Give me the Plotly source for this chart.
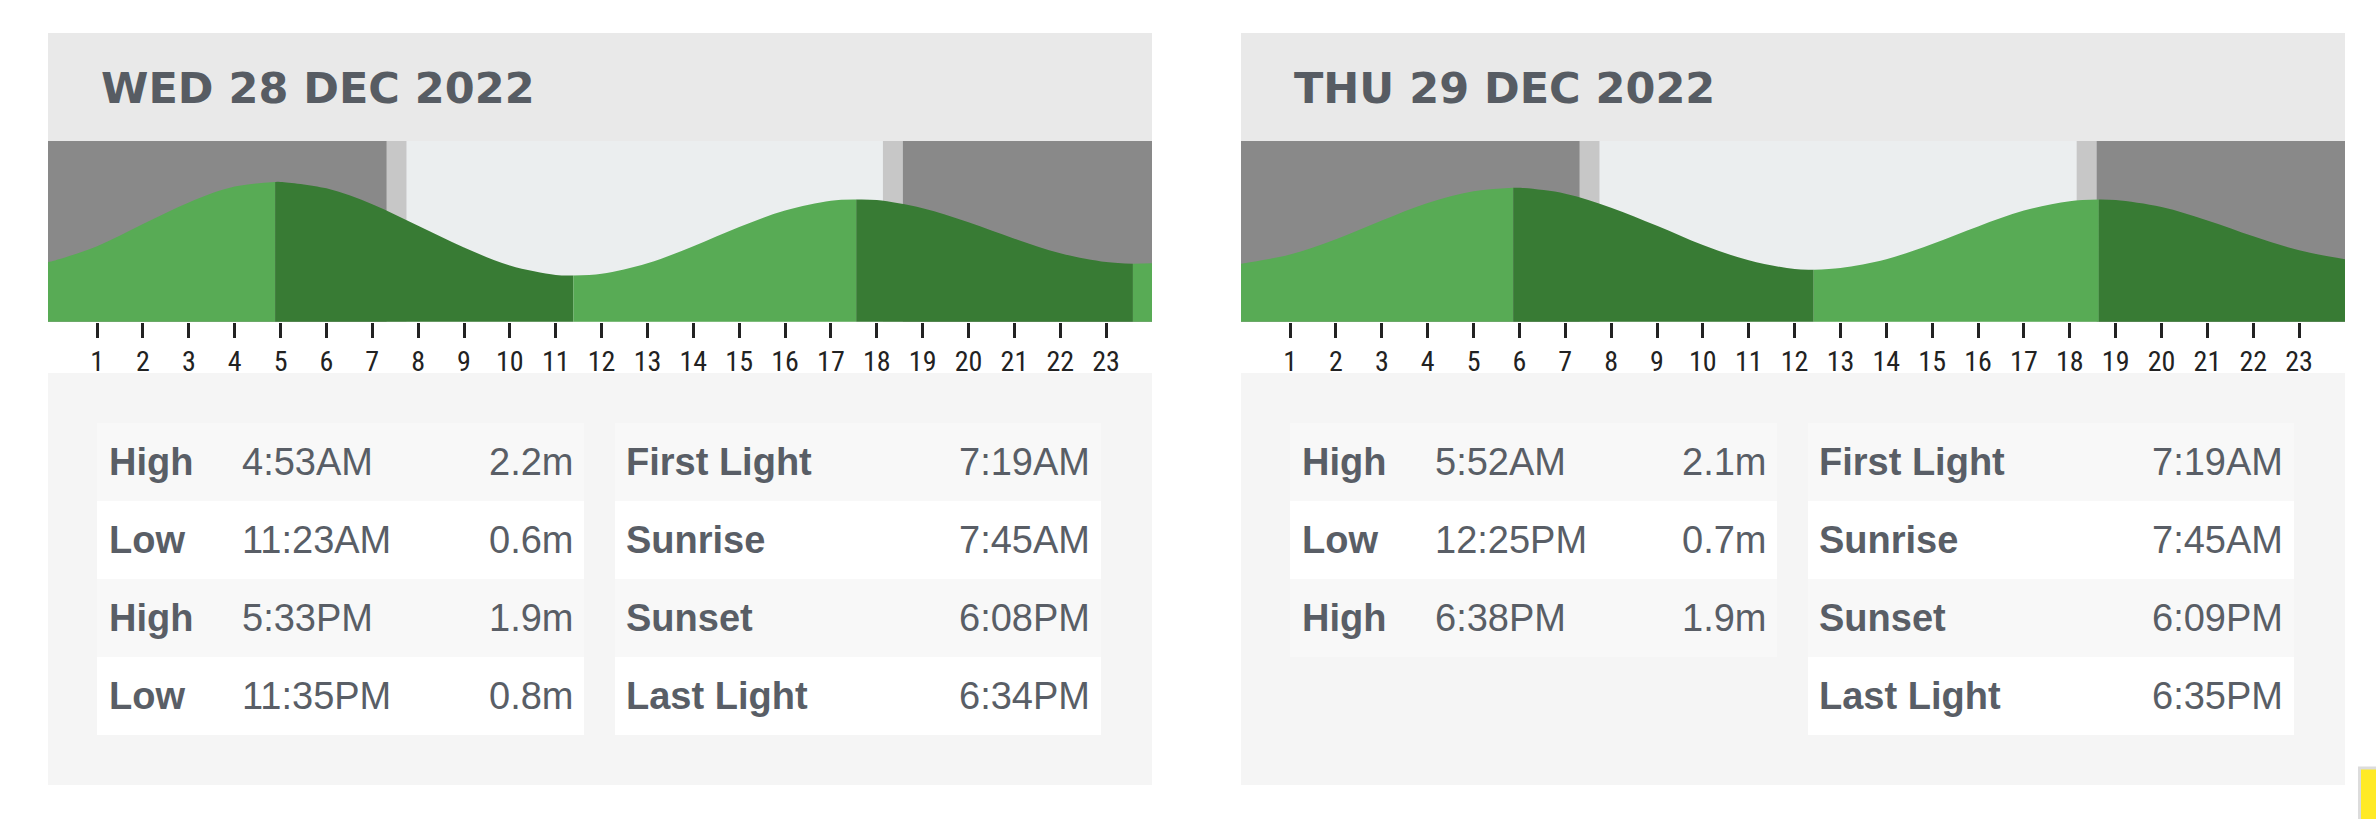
import plotly.graph_objects as go

# --- data ------------------------------------------------------------------
DAY_TITLES = ["WED 28 DEC 2022", "THU 29 DEC 2022"]

D1_TIDE_TYPE = ["High", "Low", "High", "Low"]
D1_TIDE_TIME = ["4:53AM", "11:23AM", "5:33PM", "11:35PM"]
D1_TIDE_HEIGHT = [2.2, 0.6, 1.9, 0.8]

D2_TIDE_TYPE = ["High", "Low", "High"]
D2_TIDE_TIME = ["5:52AM", "12:25PM", "6:38PM"]
D2_TIDE_HEIGHT = [2.1, 0.7, 1.9]

SUN_LABELS = ["First Light", "Sunrise", "Sunset", "Last Light"]
D1_SUN_TIME = ["7:19AM", "7:45AM", "6:08PM", "6:34PM"]
D2_SUN_TIME = ["7:19AM", "7:45AM", "6:09PM", "6:35PM"]

# tide level (m) at every full hour 0..24
HOURS = list(range(25))
D1_LEVEL = [0.84, 1.10, 1.48, 1.85, 2.12, 2.20, 2.09, 1.82, 1.45, 1.08, 0.77, 0.61, 0.63,
            0.81, 1.10, 1.43, 1.71, 1.88, 1.89, 1.75, 1.51, 1.23, 0.98, 0.83, 0.81]
D2_LEVEL = [0.81, 0.96, 1.22, 1.54, 1.84, 2.04, 2.10, 2.00, 1.76, 1.45, 1.12, 0.86, 0.71,
            0.73, 0.88, 1.14, 1.44, 1.71, 1.87, 1.89, 1.77, 1.54, 1.27, 1.03, 0.88]
# level at the very left edge of each strip (a few minutes before midnight)
EDGE_LEVEL = [0.83, 0.80]

TICK_HOURS = list(range(1, 24))

# --- styling ----------------------------------------------------------------
W, H = 2376, 819
PANEL_LEFT = [48, 1241]
PANEL_W = 1104
HEADER_Y = (33, 141)
CHART_Y = (141, 321.7)
BOTTOM_Y = (373, 785)
ROW_TOP = 423
ROW_H = 78
X_MIN = -0.07

TEXT_COL = "#595e66"
NIGHT = "#898989"
TWILIGHT = "#c7c7c7"
DAY = "#ebeeef"
RISING = "#58ab55"
FALLING = "#387b34"
FONT = "Liberation Sans, Arial, sans-serif"
TICK_FONT = "Liberation Sans Narrow, Arial Narrow, Roboto Condensed, DejaVu Sans Condensed, Liberation Sans"


def to_hours(s):
    hm, ampm = s[:-2], s[-2:]
    h, m = hm.split(":")
    h = int(h) % 12
    if ampm == "PM":
        h += 12
    return h + int(m) / 60.0


def px(x):
    return x / W


def py(y):
    return 1 - y / H


fig = go.Figure()
shapes = []
annotations = []

days = [
    (DAY_TITLES[0], D1_TIDE_TYPE, D1_TIDE_TIME, D1_TIDE_HEIGHT, D1_SUN_TIME, D1_LEVEL),
    (DAY_TITLES[1], D2_TIDE_TYPE, D2_TIDE_TIME, D2_TIDE_HEIGHT, D2_SUN_TIME, D2_LEVEL),
]

for i, (title, ttype, ttime, theight, suntime, level) in enumerate(days):
    left = PANEL_LEFT[i]
    xa = "x" if i == 0 else "x2"
    ya = "y" if i == 0 else "y2"

    # panel backgrounds
    shapes.append(dict(type="rect", xref="paper", yref="paper", layer="below",
                       x0=px(left), x1=px(left + PANEL_W), y0=py(HEADER_Y[1]), y1=py(HEADER_Y[0]),
                       fillcolor="#e9e9e9", line_width=0))
    shapes.append(dict(type="rect", xref="paper", yref="paper", layer="below",
                       x0=px(left), x1=px(left + PANEL_W), y0=py(BOTTOM_Y[1]), y1=py(BOTTOM_Y[0]),
                       fillcolor="#f5f5f5", line_width=0))

    annotations.append(dict(xref="paper", yref="paper", x=px(left + 51), y=py(88),
                            xanchor="left", yanchor="middle", showarrow=False, text=title,
                            font=dict(family="DejaVu Sans", size=43, color="#575c63", weight="bold")))

    # light / dark bands behind the curve
    sun = [to_hours(s) for s in suntime]
    bands = [(X_MIN, sun[0], NIGHT), (sun[0], sun[1], TWILIGHT), (sun[1], sun[2], DAY),
             (sun[2], sun[3], TWILIGHT), (sun[3], 24, NIGHT)]
    for x0, x1, c in bands:
        shapes.append(dict(type="rect", xref=xa, yref=ya + " domain", layer="below",
                           x0=x0, x1=x1, y0=0, y1=1, fillcolor=c, line_width=0))

    # tide curve, split at each high / low
    ext_t = [to_hours(s) for s in ttime]
    bounds = [(X_MIN, EDGE_LEVEL[i])] + list(zip(ext_t, theight)) + [(24, level[-1])]
    for (t0, v0), (t1, v1) in zip(bounds[:-1], bounds[1:]):
        xs = [t0] + [t for t in HOURS if t0 < t < t1] + [t1]
        ys = [v0] + [level[t] for t in HOURS if t0 < t < t1] + [v1]
        colour = RISING if v1 > v0 else FALLING
        fig.add_trace(go.Scatter(x=[t0, t1], y=[-0.6, -0.6], mode="lines", line_width=0,
                                 hoverinfo="skip", showlegend=False, xaxis=xa, yaxis=ya))
        fig.add_trace(go.Scatter(x=xs, y=ys, mode="lines", line=dict(width=0, shape="spline", color=colour),
                                 fill="tonexty", fillcolor=colour, hoverinfo="skip",
                                 showlegend=False, xaxis=xa, yaxis=ya))

    # tables
    for r in range(4):
        top = ROW_TOP + r * ROW_H
        bg = "#f8f8f8" if r % 2 == 0 else "#ffffff"
        cy = py(top + ROW_H / 2)
        if r < len(ttype):
            shapes.append(dict(type="rect", xref="paper", yref="paper", layer="below",
                               x0=px(left + 49), x1=px(left + 536), y0=py(top + ROW_H), y1=py(top),
                               fillcolor=bg, line_width=0))
            annotations.append(dict(xref="paper", yref="paper", x=px(left + 59), y=cy, xanchor="left",
                                    yanchor="middle", showarrow=False, text=ttype[r],
                                    font=dict(family=FONT, size=38, color=TEXT_COL, weight="bold")))
            annotations.append(dict(xref="paper", yref="paper", x=px(left + 192), y=cy, xanchor="left",
                                    yanchor="middle", showarrow=False, text=ttime[r],
                                    font=dict(family=FONT, size=38, color=TEXT_COL)))
            annotations.append(dict(xref="paper", yref="paper", x=px(left + 527), y=cy, xanchor="right",
                                    yanchor="middle", showarrow=False, text=f"{theight[r]:.1f}m",
                                    font=dict(family=FONT, size=38, color=TEXT_COL)))
        shapes.append(dict(type="rect", xref="paper", yref="paper", layer="below",
                           x0=px(left + 567), x1=px(left + 1053), y0=py(top + ROW_H), y1=py(top),
                           fillcolor=bg, line_width=0))
        annotations.append(dict(xref="paper", yref="paper", x=px(left + 576), y=cy, xanchor="left",
                                yanchor="middle", showarrow=False, text=SUN_LABELS[r],
                                font=dict(family=FONT, size=38, color=TEXT_COL, weight="bold")))
        annotations.append(dict(xref="paper", yref="paper", x=px(left + 1044), y=cy, xanchor="right",
                                yanchor="middle", showarrow=False, text=suntime[r],
                                font=dict(family=FONT, size=38, color=TEXT_COL)))

# little yellow widget peeking in at the bottom right corner
shapes.append(dict(type="rect", xref="paper", yref="paper", layer="above",
                   x0=px(2359.5), x1=1.01, y0=-0.01, y1=py(768),
                   fillcolor="#ffea26", line=dict(color="#dcdcdc", width=3)))

axis_x = dict(range=[X_MIN, 24], showgrid=False, zeroline=False, showline=False, fixedrange=True,
              ticks="outside", ticklen=15, tickwidth=2.5, tickcolor="#222222",
              tickvals=TICK_HOURS, ticktext=[str(h) for h in TICK_HOURS],
              tickfont=dict(family=TICK_FONT, size=28, color="#222222"))
axis_y = dict(range=[-0.19, 2.9], visible=False, fixedrange=True)

chart_dom = [py(CHART_Y[1]), py(CHART_Y[0])]
fig.update_layout(
    width=W, height=H,
    margin=dict(l=0, r=0, t=0, b=0),
    paper_bgcolor="white", plot_bgcolor=DAY,
    xaxis=dict(axis_x, domain=[px(PANEL_LEFT[0]), px(PANEL_LEFT[0] + PANEL_W)], anchor="y"),
    yaxis=dict(axis_y, domain=chart_dom, anchor="x"),
    xaxis2=dict(axis_x, domain=[px(PANEL_LEFT[1]), px(PANEL_LEFT[1] + PANEL_W)], anchor="y2"),
    yaxis2=dict(axis_y, domain=chart_dom, anchor="x2"),
    shapes=shapes,
    annotations=annotations,
    showlegend=False,
)

# the page's default body margin would push the figure 8px in
fig.write_html("out.html", config={"displayModeBar": False},
               post_script="document.body.style.margin = '0';")
